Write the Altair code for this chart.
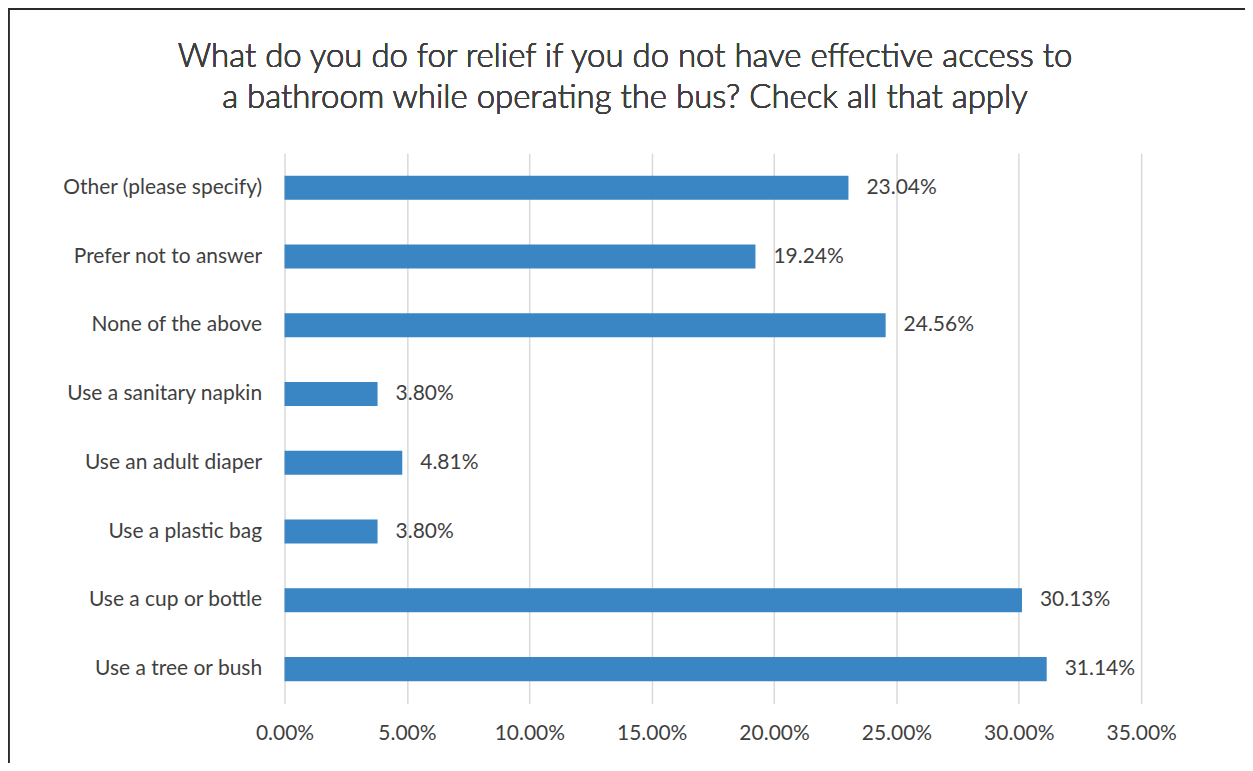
import altair as alt
import pandas as pd

categories = [
    "Other (please specify)",
    "Prefer not to answer",
    "None of the above",
    "Use a sanitary napkin",
    "Use an adult diaper",
    "Use a plastic bag",
    "Use a cup or bottle",
    "Use a tree or bush",
]
values = [23.04, 19.24, 24.56, 3.80, 4.81, 3.80, 30.13, 31.14]
labels = ["23.04%", "19.24%", "24.56%", "3.80%", "4.81%", "3.80%", "30.13%", "31.14%"]
ticks = [0, 5, 10, 15, 20, 25, 30, 35]
title_lines = ["What do you do for relief if you do not have effective access to",
               "a bathroom while operating the bus? Check all that apply"]

df = pd.DataFrame({"cat": categories, "val": values, "lab": labels})

FONT = "Lato"
TXT = "#3f3f3f"
W, H = 858, 551
PL, PT = 277, 145
FS = 21

y_enc = alt.Y("cat:N", sort=categories, title=None,
              scale=alt.Scale(paddingInner=0.65, paddingOuter=0.325),
              axis=alt.Axis(domain=False, ticks=False, labelFontSize=FS, labelFont=FONT,
                            labelColor=TXT, labelPadding=23, grid=False, labelLimit=0))
x_enc = alt.X("val:Q", title=None,
              scale=alt.Scale(domain=[0, 35], nice=False),
              axis=alt.Axis(values=ticks, labelExpr="format(datum.value, '.2f') + '%'",
                            domain=False, ticks=False, grid=True, gridColor="#d9d9d9",
                            gridWidth=1.5, labelFontSize=FS, labelFont=FONT, labelColor=TXT,
                            labelPadding=19, labelFlush=False, labelOverlap=False))

bars = alt.Chart(df).mark_bar(color="#3a86c4").encode(x=x_enc, y=y_enc)
text = alt.Chart(df).mark_text(align="left", baseline="middle", dx=18, fontSize=FS,
                               font=FONT, color=TXT).encode(
    x="val:Q", y=alt.Y("cat:N", sort=categories), text="lab:N")

border_top = alt.Chart(df).mark_rule(color="#2b2b2b", strokeWidth=1.5).encode(
    x=alt.value(-PL), x2=alt.value(W + 200), y=alt.value(-PT + 0.5))
border_left = alt.Chart(df).mark_rule(color="#2b2b2b", strokeWidth=1.5).encode(
    x=alt.value(-PL + 0.5), y=alt.value(-PT), y2=alt.value(H + 200))

title1 = alt.Chart(df).mark_text(fontSize=33, font=FONT, fontWeight=300, color=TXT,
                                 align="center", baseline="alphabetic").encode(
    x=alt.value(626 - 8 - PL), y=alt.value(66 - 8 - PT), text=alt.value(title_lines[0]))
title2 = alt.Chart(df).mark_text(fontSize=33, font=FONT, fontWeight=300, color=TXT,
                                 align="center", baseline="alphabetic").encode(
    x=alt.value(626 - 8 - PL), y=alt.value(108 - 8 - PT), text=alt.value(title_lines[1]))

chart = alt.layer(bars, text, border_top, border_left, title1, title2).properties(
    width=W, height=H,
    autosize=alt.AutoSizeParams(type="none"),
    padding={"left": PL, "top": PT, "right": 104, "bottom": 59},
    background="white",
).configure_view(stroke=None)

chart.save("out.html", embed_options={"renderer": "svg", "actions": False})
